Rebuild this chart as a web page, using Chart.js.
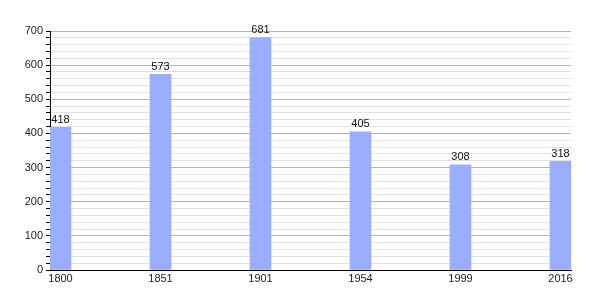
<!DOCTYPE html>
<html>
<head>
<meta charset="utf-8">
<style>
  html, body { margin: 0; padding: 0; background: #fff; }
  #wrap { width: 600px; height: 300px; position: relative; }
</style>
<script src="https://cdn.jsdelivr.net/npm/chart.js@4/dist/chart.umd.min.js"></script>
</head>
<body>
<div id="wrap"><canvas id="myChart" width="600" height="300"></canvas></div>
<script>
// données
var annees = ['1800', '1851', '1901', '1954', '1999', '2016'];
var population = [418, 573, 681, 405, 308, 318];
var yTicks = [0, 100, 200, 300, 400, 500, 600, 700];

// étiquettes de valeur au-dessus des barres
var etiquettes = {
  id: 'etiquettes',
  afterDatasetsDraw: function (chart) {
    var ctx = chart.ctx;
    var meta = chart.getDatasetMeta(0);
    ctx.save();
    ctx.font = '11px "Liberation Sans", Arial, sans-serif';
    ctx.fillStyle = '#111';
    ctx.textAlign = 'center';
    ctx.textBaseline = 'bottom';
    meta.data.forEach(function (bar, i) {
      ctx.fillText(String(population[i]), bar.x, bar.y - 2);
    });
    ctx.restore();
  }
};

var ctx = document.getElementById('myChart').getContext('2d');
new Chart(ctx, {
  type: 'bar',
  data: {
    datasets: [{
      data: population.map(function (v, i) { return { x: i, y: v }; }),
      backgroundColor: '#9aadfe',
      borderWidth: 0,
      barThickness: 21
    }]
  },
  options: {
    responsive: false,
    animation: false,
    devicePixelRatio: 1,
    layout: { padding: { top: 31, right: 29, left: 0, bottom: 0 } },
    plugins: { legend: { display: false }, tooltip: { enabled: false } },
    scales: {
      x: {
        type: 'linear',
        offset: false,
        min: -0.105,
        max: 5.105,
        afterFit: function (s) { s.height = 30; },
        afterBuildTicks: function (s) {
          s.ticks = annees.map(function (a, i) { return { value: i }; });
        },
        ticks: {
          callback: function (v) { return annees[v]; },
          font: { size: 11, family: '"Liberation Sans", Arial, sans-serif' },
          color: '#222',
          maxRotation: 0,
          padding: 2
        },
        grid: { display: false, drawTicks: false },
        border: { color: '#000', width: 1 }
      },
      y: {
        min: 0,
        max: 700,
        afterFit: function (s) { s.width = 50; },
        ticks: {
          stepSize: 20,
          autoSkip: false,
          callback: function (v) { return yTicks.indexOf(v) >= 0 ? v : ''; },
          font: { size: 11, family: '"Liberation Sans", Arial, sans-serif' },
          color: '#222',
          padding: 3
        },
        grid: {
          tickLength: 4,
          color: function (c) { return c.tick && c.tick.value % 100 === 0 ? '#b4b4b4' : '#e2e2e2'; },
          tickColor: '#000',
          drawTicks: true
        },
        border: { color: '#000', width: 1 }
      }
    }
  },
  plugins: [etiquettes]
});
</script>
</body>
</html>
